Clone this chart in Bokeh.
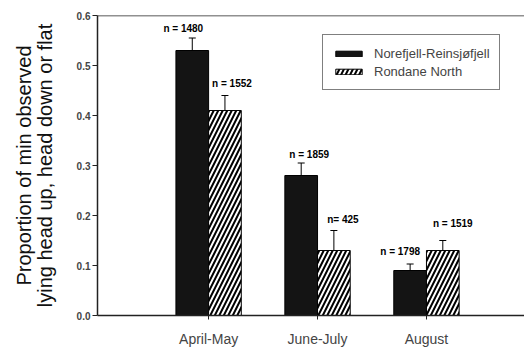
from bokeh.plotting import figure
from bokeh.models import (Range1d, FixedTicker, Whisker, TeeHead, ColumnDataSource,
                          Legend, LegendItem, Span, LinearAxis)
from bokeh.core.properties import value
from bokeh.embed import file_html
from bokeh.resources import INLINE

# ---- data ----
categories = ["April-May", "June-July", "August"]
series = ["Norefjell-Reinsjøfjell", "Rondane North"]
norefjell = [0.53, 0.28, 0.09]
rondane = [0.41, 0.13, 0.13]
norefjell_se = [0.025, 0.025, 0.013]
rondane_se = [0.03, 0.04, 0.02]
norefjell_n = ["n = 1480", "n = 1859", "n = 1798"]
rondane_n = ["n = 1552", "n= 425", "n = 1519"]
y_ticks = [0.0, 0.1, 0.2, 0.3, 0.4, 0.5, 0.6]
y_tick_labels = ["0.0", "0.1", "0.2", "0.3", "0.4", "0.5", "0.6"]
y_label_lines = ["Proportion of min observed", "lying head up, head down or flat"]

# ---- styles ----
FONT = "Liberation Sans"
bar_w = 0.3
nor_label_dx = [-9, 8, -10]
nor_label_dy = [-10, -9, -13]
ron_label_dx = [7, 9, 10]
ron_label_dy = [-12, -11, -17]

cat_x = [i + 1 for i in range(len(categories))]
xb = [c - bar_w / 2 for c in cat_x]
xh = [c + bar_w / 2 for c in cat_x]

p = figure(width=524, height=349, x_range=Range1d(-0.02, 3.9), y_range=Range1d(0, 0.6),
           output_backend="svg", toolbar_location=None,
           min_border_left=97, min_border_right=0, min_border_top=15, min_border_bottom=32)
p.xgrid.visible = False
p.ygrid.visible = False
p.outline_line_color = None
p.background_fill_color = "white"
p.border_fill_color = "white"

r1 = p.vbar(x=xb, top=norefjell, width=bar_w, fill_color="#141414", line_color="black", line_width=1)
r2 = p.vbar(x=xh, top=rondane, width=bar_w, fill_color="white", line_color="black", line_width=1,
            hatch_pattern="/", hatch_scale=9, hatch_weight=2, hatch_color="black")

for xs, vals, se in [(xb, norefjell, norefjell_se), (xh, rondane, rondane_se)]:
    src = ColumnDataSource(dict(x=xs, lower=vals, upper=[v + s for v, s in zip(vals, se)]))
    w = Whisker(base="x", lower="lower", upper="upper", source=src, dimension="height",
                line_color="black", line_width=1,
                upper_head=TeeHead(size=7, line_color="black", line_width=1), lower_head=None)
    p.add_layout(w)

for xs, vals, se, txt, dx, dy in [(xb, norefjell, norefjell_se, norefjell_n, nor_label_dx, nor_label_dy),
                                  (xh, rondane, rondane_se, rondane_n, ron_label_dx, ron_label_dy)]:
    src = ColumnDataSource(dict(x=xs, y=[v + s for v, s in zip(vals, se)], t=txt, dx=dx, dy=dy))
    p.text(x="x", y="y", text="t", x_offset="dx", y_offset="dy", source=src,
           text_font=value(FONT), text_font_style="bold", text_font_size="10px",
           text_align="center", text_baseline="middle", text_color="black")

p.add_layout(Span(location=0.6, dimension="width", line_color="#222222", line_width=1.5))

# axes
p.yaxis.ticker = FixedTicker(ticks=y_ticks)
p.yaxis.major_label_overrides = {t: l for t, l in zip(y_ticks, y_tick_labels)}
p.yaxis.major_tick_out = 5
p.yaxis.major_tick_in = 0
p.yaxis.minor_tick_line_color = None
p.yaxis.major_label_text_font = FONT
p.yaxis.major_label_text_font_style = "bold"
p.yaxis.major_label_text_font_size = "10px"
p.yaxis.major_label_standoff = 2
p.yaxis.axis_line_width = 1.5
p.yaxis.axis_line_color = "#222222"
p.yaxis.major_tick_line_color = "#222222"
p.yaxis.axis_label = y_label_lines[1]
p.yaxis.axis_label_text_font = FONT
p.yaxis.axis_label_text_font_style = "normal"
p.yaxis.axis_label_text_font_size = "20px"
p.yaxis.axis_label_text_color = "#111111"
p.yaxis.axis_label_standoff = 18

outer = LinearAxis(ticker=FixedTicker(ticks=[]), axis_label=y_label_lines[0],
                   axis_line_color=None, major_tick_line_color=None, minor_tick_line_color=None,
                   axis_label_text_font=FONT, axis_label_text_font_style="normal",
                   axis_label_text_font_size="20px", axis_label_text_color="#111111",
                   axis_label_standoff=-4)
try:
    outer.axis_label_align = "left"
except Exception:
    pass
p.add_layout(outer, "left")

p.xaxis.ticker = FixedTicker(ticks=cat_x)
p.xaxis.major_label_overrides = {c: l for c, l in zip(cat_x, categories)}
p.xaxis.major_tick_out = 4
p.xaxis.major_tick_in = 0
p.xaxis.minor_tick_line_color = None
p.xaxis.major_label_text_font = FONT
p.xaxis.major_label_text_font_size = "14px"
p.xaxis.major_label_standoff = 11
p.xaxis.axis_line_width = 1.5
p.xaxis.axis_line_color = "#222222"
p.xaxis.major_tick_line_color = "#222222"

legend = Legend(items=[LegendItem(label=series[0], renderers=[r1]),
                       LegendItem(label=series[1], renderers=[r2])],
                location=(225, 225), margin=0, padding=9, spacing=0,
                glyph_width=33, glyph_height=7, label_height=18, label_standoff=9,
                label_text_font=FONT, label_text_font_size="13px",
                border_line_color="black", border_line_width=1.5,
                background_fill_alpha=1.0)
p.add_layout(legend)

open("out.html", "w").write(file_html(p, INLINE))
